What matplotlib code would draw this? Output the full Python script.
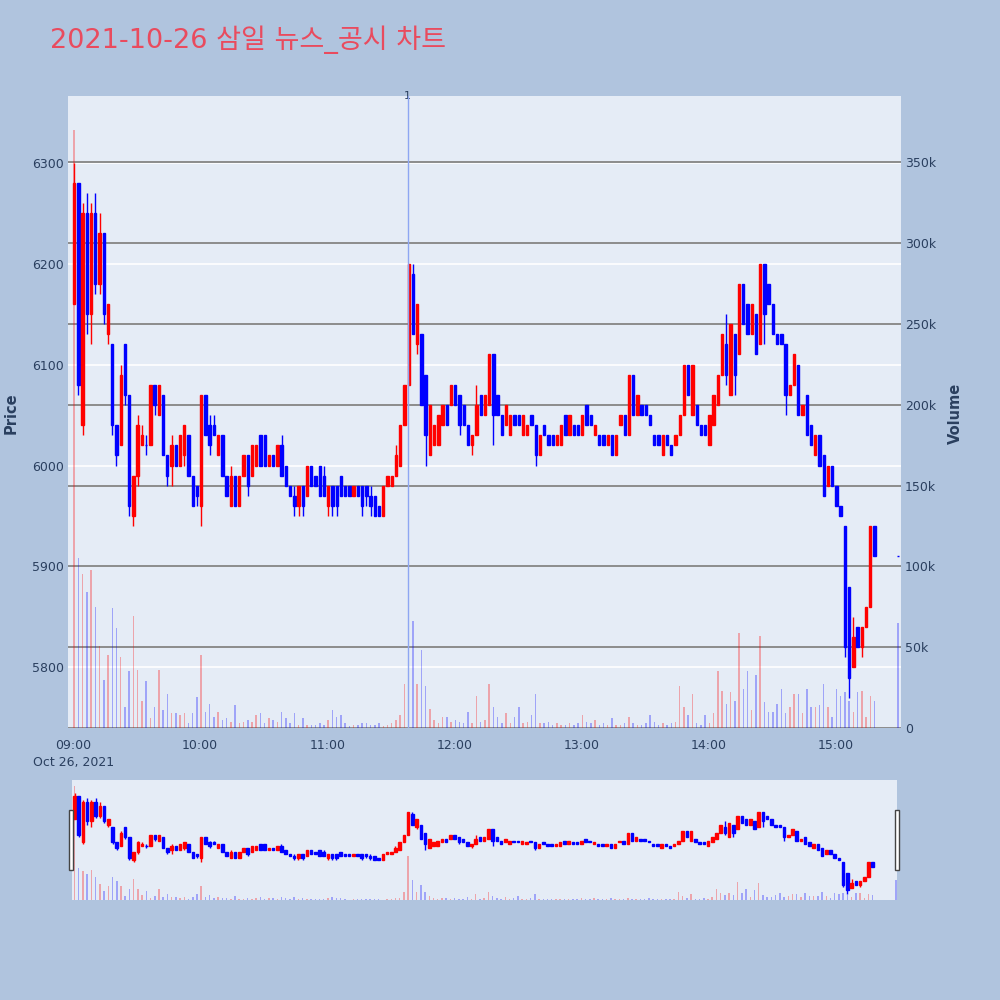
import numpy as np
import matplotlib
matplotlib.use("Agg")
import matplotlib.pyplot as plt
from matplotlib.patches import Rectangle

plt.rcParams['font.family'] = ['DejaVu Sans', 'Noto Sans CJK KR']

# --- 데이터: 2분봉 (09:00 기준 분), 마지막은 15:30 동시호가
minutes = list(range(0, 380, 2)) + [389]

opens = [6160, 6280, 6040, 6250, 6150, 6250, 6180, 6230, 6130, 6120,
         6040, 6020, 6120, 6070, 5950, 5990, 6020, 6020, 6020, 6080,
         6050, 6070, 6010, 6000, 6020, 6000, 6010, 6030, 5990, 5980,
         5960, 6070, 6040, 6040, 6010, 6030, 5990, 5960, 5990, 5960,
         5990, 6010, 5990, 6000, 6030, 6030, 6000, 6010, 6000, 6020,
         6000, 5980, 5970, 5960, 5980, 5970, 6000, 5990, 6000, 5990,
         5960, 5980, 5980, 5990, 5980, 5980, 5970, 5980, 5980, 5980,
         5970, 5970, 5960, 5950, 5980, 5980, 5990, 6000, 6040, 6080,
         6190, 6120, 6130, 6090, 6010, 6020, 6020, 6040, 6060, 6060,
         6080, 6070, 6060, 6040, 6020, 6030, 6070, 6050, 6060, 6110,
         6070, 6050, 6040, 6030, 6050, 6050, 6030, 6030, 6050, 6040,
         6010, 6040, 6030, 6030, 6020, 6020, 6050, 6030, 6040, 6040,
         6030, 6060, 6050, 6030, 6030, 6030, 6020, 6030, 6010, 6040,
         6050, 6030, 6090, 6050, 6060, 6060, 6050, 6030, 6030, 6010,
         6030, 6020, 6020, 6030, 6050, 6100, 6050, 6060, 6040, 6040,
         6020, 6040, 6060, 6090, 6120, 6070, 6130, 6110, 6180, 6160,
         6130, 6150, 6120, 6200, 6180, 6160, 6130, 6130, 6120, 6070,
         6080, 6100, 6050, 6070, 6040, 6010, 6030, 6010, 5980, 6000,
         5980, 5960, 5940, 5880, 5800, 5840, 5820, 5840, 5860, 5940,
         5910]

highs = [6300, 6280, 6260, 6270, 6260, 6270, 6250, 6230, 6160, 6120,
         6040, 6100, 6120, 6070, 5990, 6050, 6040, 6030, 6080, 6080,
         6080, 6070, 6010, 6030, 6020, 6030, 6040, 6030, 5990, 5980,
         6070, 6070, 6050, 6050, 6030, 6030, 5990, 6000, 5990, 5990,
         6010, 6010, 6020, 6020, 6030, 6030, 6010, 6010, 6020, 6030,
         6000, 5980, 5980, 5980, 5980, 6000, 6000, 5990, 6000, 6000,
         5980, 5980, 5980, 5990, 5980, 5980, 5980, 5980, 5980, 5980,
         5980, 5970, 5960, 5980, 5990, 5990, 6020, 6040, 6080, 6200,
         6200, 6160, 6130, 6090, 6060, 6040, 6050, 6060, 6060, 6080,
         6080, 6070, 6060, 6040, 6030, 6080, 6070, 6070, 6110, 6110,
         6070, 6050, 6060, 6050, 6050, 6050, 6050, 6040, 6050, 6040,
         6030, 6040, 6030, 6030, 6030, 6040, 6050, 6050, 6040, 6040,
         6050, 6060, 6050, 6040, 6030, 6030, 6030, 6030, 6030, 6050,
         6050, 6090, 6090, 6070, 6060, 6060, 6050, 6030, 6030, 6030,
         6030, 6020, 6030, 6050, 6100, 6100, 6100, 6060, 6040, 6040,
         6050, 6070, 6090, 6130, 6150, 6140, 6130, 6180, 6180, 6160,
         6160, 6150, 6200, 6200, 6180, 6160, 6130, 6130, 6120, 6080,
         6110, 6100, 6060, 6070, 6040, 6030, 6030, 6010, 6000, 6000,
         5980, 5960, 5940, 5880, 5850, 5840, 5840, 5860, 5940, 5940,
         5910]

lows = [6160, 6070, 6030, 6130, 6120, 6170, 6170, 6140, 6120, 6030,
        6000, 6020, 6060, 5950, 5940, 5980, 6020, 6010, 6020, 6050,
        6050, 6010, 5980, 5980, 6000, 6000, 6000, 5990, 5960, 5960,
        5940, 6030, 6010, 6030, 6010, 5990, 5970, 5960, 5960, 5960,
        5990, 5970, 5990, 6000, 6000, 6000, 6000, 6000, 6000, 5990,
        5980, 5970, 5950, 5950, 5950, 5970, 5980, 5980, 5970, 5970,
        5950, 5950, 5950, 5970, 5970, 5970, 5970, 5970, 5950, 5960,
        5950, 5950, 5950, 5950, 5980, 5980, 5990, 6000, 6040, 6080,
        6130, 6110, 6060, 6000, 6010, 6020, 6020, 6040, 6040, 6060,
        6060, 6030, 6040, 6020, 6010, 6030, 6050, 6050, 6060, 6020,
        6050, 6030, 6040, 6030, 6040, 6040, 6030, 6030, 6040, 6000,
        6010, 6030, 6020, 6020, 6020, 6020, 6030, 6030, 6030, 6030,
        6030, 6040, 6040, 6030, 6020, 6020, 6020, 6010, 6010, 6040,
        6030, 6030, 6050, 6050, 6050, 6050, 6040, 6020, 6020, 6010,
        6020, 6010, 6020, 6030, 6050, 6070, 6050, 6040, 6030, 6030,
        6020, 6040, 6060, 6090, 6080, 6070, 6070, 6110, 6140, 6130,
        6130, 6110, 6120, 6120, 6160, 6130, 6120, 6120, 6050, 6070,
        6080, 6050, 6050, 6030, 6020, 6010, 6000, 5970, 5980, 5980,
        5960, 5950, 5810, 5770, 5800, 5820, 5810, 5840, 5860, 5910,
        5910]

closes = [6280, 6080, 6250, 6150, 6250, 6180, 6230, 6150, 6160, 6040,
          6010, 6090, 6070, 5960, 5990, 6040, 6030, 6020, 6080, 6060,
          6080, 6010, 5990, 6020, 6000, 6030, 6040, 5990, 5960, 5970,
          6070, 6030, 6020, 6030, 6030, 5990, 5970, 5990, 5960, 5990,
          6010, 5980, 6020, 6020, 6000, 6000, 6010, 6000, 6020, 5990,
          5980, 5970, 5960, 5980, 5960, 6000, 5980, 5980, 5970, 5970,
          5980, 5960, 5960, 5970, 5970, 5970, 5980, 5970, 5960, 5970,
          5960, 5950, 5950, 5980, 5990, 5990, 6010, 6040, 6080, 6200,
          6130, 6160, 6060, 6030, 6060, 6040, 6050, 6060, 6040, 6080,
          6060, 6040, 6040, 6020, 6030, 6060, 6050, 6070, 6110, 6050,
          6050, 6030, 6060, 6050, 6040, 6040, 6050, 6040, 6040, 6010,
          6030, 6030, 6020, 6020, 6030, 6040, 6030, 6050, 6030, 6030,
          6050, 6040, 6040, 6040, 6020, 6020, 6030, 6010, 6030, 6050,
          6030, 6090, 6050, 6070, 6050, 6050, 6040, 6020, 6020, 6030,
          6020, 6010, 6030, 6050, 6100, 6070, 6100, 6040, 6030, 6030,
          6050, 6070, 6090, 6130, 6090, 6140, 6090, 6180, 6140, 6130,
          6160, 6110, 6200, 6150, 6160, 6130, 6120, 6120, 6070, 6080,
          6110, 6050, 6060, 6030, 6020, 6030, 6000, 5970, 6000, 5980,
          5960, 5950, 5820, 5790, 5830, 5820, 5840, 5860, 5940, 5910,
          5910]

# 거래량 (천 주)
volumes = [370, 105, 95, 84, 98, 75, 51, 30, 45, 74, 62, 44, 13, 35, 69, 36,
           17, 29, 6, 13, 36, 11, 21, 9, 9, 8, 9, 3, 9, 19, 45, 10,
           15, 7, 10, 5, 6, 4, 14, 3, 4, 5, 4, 8, 9, 3, 6, 5,
           4, 10, 6, 3, 9, 2, 6, 2, 2, 2, 3, 2, 5, 11, 7, 8,
           3, 1, 2, 2, 3, 3, 2, 2, 3, 1, 2, 3, 5, 8, 27, 143,
           66, 27, 48, 26, 12, 5, 3, 7, 7, 4, 5, 4, 3, 10, 3, 20,
           4, 5, 27, 13, 7, 3, 9, 3, 7, 13, 3, 4, 8, 21, 3, 3,
           4, 2, 3, 2, 2, 3, 2, 3, 8, 4, 3, 5, 2, 3, 2, 6,
           2, 2, 3, 7, 3, 2, 2, 3, 8, 4, 2, 3, 2, 3, 4, 26,
           13, 8, 21, 3, 2, 8, 3, 9, 35, 23, 15, 22, 17, 59, 24, 35,
           11, 33, 57, 16, 10, 10, 15, 24, 9, 13, 21, 21, 9, 24, 13, 13,
           14, 27, 13, 7, 24, 20, 22, 17, 10, 22, 23, 7, 20, 17,
           65]

news_minute = 158   # 11:38 공시
news_label = "1"

time_ticks = [0, 60, 120, 180, 240, 300, 360]
time_labels = ["09:00\nOct 26, 2021", "10:00", "11:00", "12:00", "13:00", "14:00", "15:00"]
price_ticks = [5800, 5900, 6000, 6100, 6200, 6300]
vol_ticks = [0, 50, 100, 150, 200, 250, 300, 350]
vol_labels = ["0", "50k", "100k", "150k", "200k", "250k", "300k", "350k"]

title = "2021-10-26 삼일 뉴스_공시 차트"

# --- 스타일
BG = '#B0C4DE'
PLOT_BG = '#E5ECF6'
TXT = '#2a3f5f'
INC, DEC = '#ff0000', '#0000ff'

o = np.array(opens); h = np.array(highs); l = np.array(lows); c = np.array(closes)
xs = np.array(minutes) + 0.5
cols = [INC if cc > oo else DEC for oo, cc in zip(o, c)]
vcols = [(1, 0, 0, 0.3) if cc > oo else (0, 0, 1, 0.3) for oo, cc in zip(o, c)]
vol = np.array(volumes)

PRICE_LIM = (5740, 6366)
VOL_LIM = (0, 391)


def draw_candles(ax, body_w, wick_lw, edge_lw):
    ax.vlines(xs, l, h, colors=cols, lw=wick_lw, zorder=3)
    ax.bar(xs, np.abs(c - o), bottom=np.minimum(o, c), width=body_w,
           color=cols, edgecolor=cols, linewidth=edge_lw, zorder=4)


fig = plt.figure(figsize=(10, 10), dpi=100, facecolor=BG)
rect = [0.068, 0.272, 0.833, 0.632]

# 가격 축 (배경 + 흰색 그리드)
ax_p = fig.add_axes(rect)
ax_p.set_facecolor(PLOT_BG)
ax_p.set_xlim(-2.4, 391)
ax_p.set_ylim(*PRICE_LIM)
ax_p.set_yticks(price_ticks)
ax_p.set_yticklabels([str(t) for t in price_ticks])
ax_p.grid(axis='y', color='white', lw=1.2)
ax_p.set_axisbelow(True)
ax_p.set_xticks(time_ticks)
ax_p.set_xticklabels(time_labels, linespacing=1.35)
ax_p.tick_params(axis='both', length=0, colors=TXT, labelsize=9)
ax_p.tick_params(axis='y', pad=3)
ax_p.tick_params(axis='x', pad=8)

# 거래량 축
ax_v = fig.add_axes(rect, sharex=ax_p)
ax_v.patch.set_visible(False)
ax_v.set_ylim(*VOL_LIM)
ax_v.bar(xs, vol, width=0.7, color=vcols, zorder=2)
ax_v.set_yticks(vol_ticks)
ax_v.set_yticklabels(vol_labels)
ax_v.yaxis.tick_right()
ax_v.grid(axis='y', color='#8c8c8c', lw=1.4)
ax_v.set_axisbelow(True)
ax_v.tick_params(axis='both', length=0, colors=TXT, labelsize=9)
ax_v.tick_params(axis='x', labelbottom=False)
ax_v.tick_params(axis='y', pad=3)

fig.text(0.011, 0.587, 'Price', rotation=90, ha='center', va='center',
         color=TXT, fontsize=10.5, fontweight='bold')
fig.text(0.955, 0.587, 'Volume', rotation=90, ha='center', va='center',
         color=TXT, fontsize=10.5, fontweight='bold')

# 캔들
ax_c = fig.add_axes(rect, sharex=ax_p, sharey=ax_p)
ax_c.patch.set_visible(False)
ax_c.axis('off')
draw_candles(ax_c, 1.1, 1.0, 1.0)
ax_c.axvline(news_minute, color='#8ea6f2', lw=1, zorder=5)
ax_c.annotate(news_label, xy=(news_minute, 1.0), xycoords=('data', 'axes fraction'),
              ha='center', va='center', fontsize=8, color=TXT, annotation_clip=False)

for a in (ax_p, ax_v, ax_c):
    for s in a.spines.values():
        s.set_visible(False)

# --- 레인지 슬라이더
srect = [0.072, 0.100, 0.825, 0.120]
sp = fig.add_axes(srect)
sp.set_facecolor(PLOT_BG)
sp.set_xlim(-0.7, 390)
sp.set_ylim(*PRICE_LIM)
sv = fig.add_axes(srect, sharex=sp)
sv.patch.set_visible(False)
sv.set_ylim(*VOL_LIM)
sv.bar(xs, vol, width=0.7, color=vcols)
sc = fig.add_axes(srect, sharex=sp, sharey=sp)
sc.patch.set_visible(False)
draw_candles(sc, 1.2, 1.0, 1.0)
for a in (sp, sv, sc):
    a.set_xticks([]); a.set_yticks([])
    for s in a.spines.values():
        s.set_visible(False)

for hx in (0.069, 0.895):
    fig.add_artist(Rectangle((hx, 0.130), 0.004, 0.060, transform=fig.transFigure,
                             facecolor='white', edgecolor='#444444', lw=1))

fig.text(0.05, 0.96, title, color='#E94B5E', fontsize=19.5, ha='left', va='center')

fig.savefig('out.png', dpi=100, facecolor=BG)
